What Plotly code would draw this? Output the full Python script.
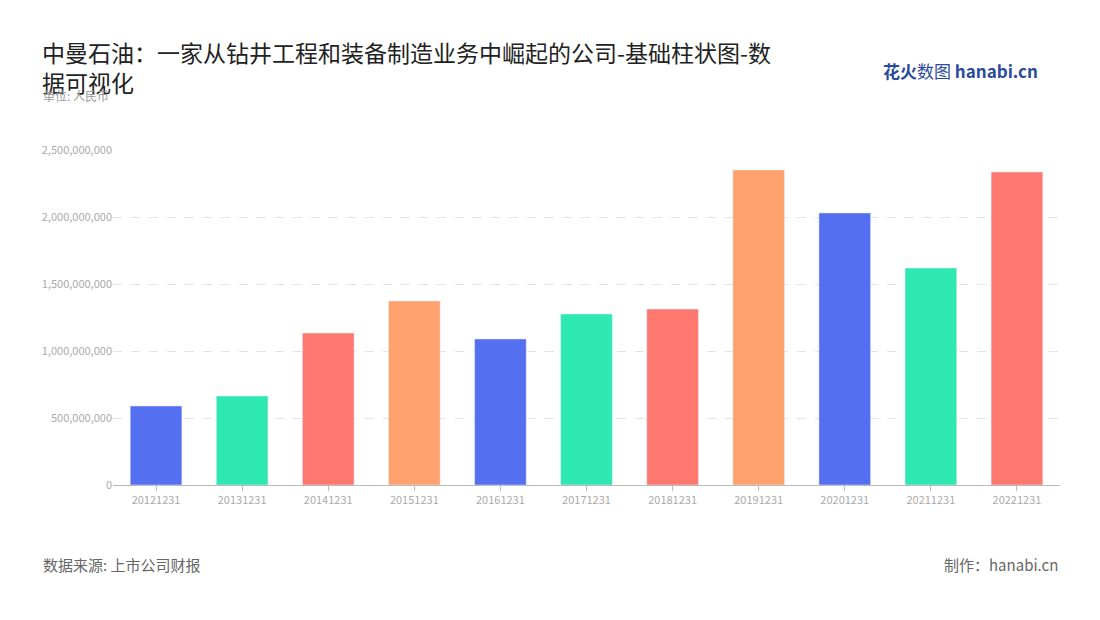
import plotly.graph_objects as go

categories = ["20121231","20131231","20141231","20151231","20161231","20171231","20181231","20191231","20201231","20211231","20221231"]
values = [590e6, 664e6, 1134e6, 1373e6, 1090e6, 1276e6, 1313e6, 2351e6, 2030e6, 1619e6, 2336e6]
palette = ["#5470f0", "#2de8b0", "#ff7870", "#ffa26e"]
colors = [palette[i % 4] for i in range(len(categories))]
tickvals = [0, 500e6, 1000e6, 1500e6, 2000e6, 2500e6]
ticktext = ["0", "500,000,000", "1,000,000,000", "1,500,000,000", "2,000,000,000", "2,500,000,000"]

F = "Noto Sans CJK SC"
fig = go.Figure(go.Bar(x=categories, y=values, marker_color=colors, width=0.6))
fig.update_layout(
    width=1100, height=620, paper_bgcolor="white", plot_bgcolor="white",
    margin=dict(l=105, r=48, t=142, b=143, autoexpand=False), showlegend=False,
    font=dict(family=F),
    title=dict(text="中曼石油：一家从钻井工程和装备制造业务中崛起的公司-基础柱状图-数<br>据可视化",
               x=34 / 1100, xref="container", xanchor="left", y=1 - 54 / 620, yref="container", yanchor="top",
               font=dict(size=23, color="#222", family=F)),
    xaxis=dict(type="category", showline=True, linecolor="#bbb", ticks="outside", tickcolor="#bbb",
               tickfont=dict(size=11, color="#aaa"), automargin=False),
    yaxis=dict(range=[0, 2.5e9], tickvals=tickvals, ticktext=ticktext, showgrid=True,
               gridcolor="#e3e3e3", griddash="dash", zeroline=False, automargin=False,
               tickfont=dict(size=11, color="#aaa")),
    annotations=[
        dict(text="数据来源: 上市公司财报", x=0, y=1 - (564 - 150) / 335, xref="paper", yref="paper",
             xanchor="left", yanchor="middle", showarrow=False, font=dict(size=15, color="#666"), xshift=-72),
        dict(text="制作：hanabi.cn", x=1, y=1 - (564 - 150) / 335, xref="paper", yref="paper",
             xanchor="right", yanchor="middle", showarrow=False, font=dict(size=15, color="#666")),
        dict(text="<b>花火</b>数图 <b>hanabi.cn</b>", x=1, y=1 + (150 - 71) / 335, xref="paper", yref="paper",
             xanchor="right", yanchor="middle", showarrow=False, font=dict(size=17, color="#2a4a9a"), xshift=-20),
        dict(text="单位: 人民币", x=0, y=1 + (150 - 96) / 335, xref="paper", yref="paper",
             xanchor="left", yanchor="middle", showarrow=False, font=dict(size=12, color="#999"), xshift=-72),
    ],
)
fig.write_html("out.html")
